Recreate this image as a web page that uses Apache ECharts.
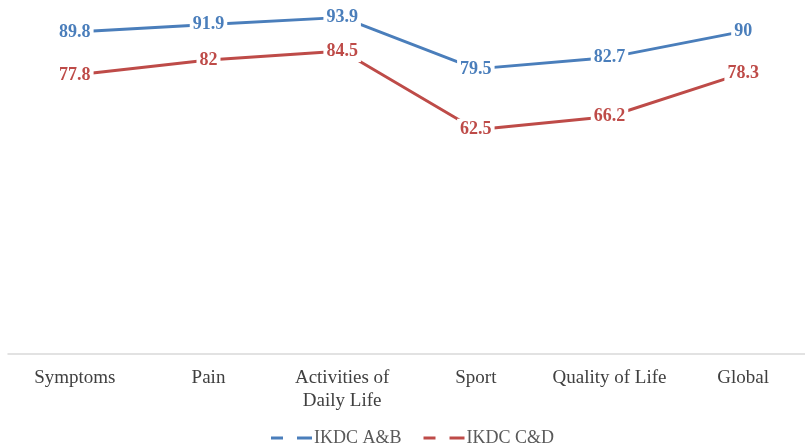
<!DOCTYPE html>
<html>
<head>
<meta charset="utf-8">
<script src="https://cdn.jsdelivr.net/npm/echarts@6/dist/echarts.min.js"></script>
<style>html,body{margin:0;padding:0;background:#fff}#c{width:805px;height:445px}</style>
</head>
<body>
<div id="c"></div>
<script>
var categories = ['Symptoms', 'Pain', 'Activities of\nDaily Life', 'Sport', 'Quality of Life', 'Global'];
var seriesNames = ['IKDC A&B', 'IKDC C&D'];
var ikdcAB = [89.8, 91.9, 93.9, 79.5, 82.7, 90];
var ikdcCD = [77.8, 82, 84.5, 62.5, 66.2, 78.3];
var colors = ['#4A7EBB', '#BE4B48'];
var FONT = '"Liberation Serif", "Times New Roman", serif';

function makeSeries(name, data, color) {
  return {
    name: name,
    type: 'line',
    data: data,
    symbol: 'circle',
    symbolSize: 1,
    showSymbol: true,
    itemStyle: { color: color },
    lineStyle: { color: color, width: 2.9 },
    label: {
      show: true,
      position: 'inside',
      color: color,
      fontFamily: FONT,
      fontWeight: 'bold',
      fontSize: 18,
      backgroundColor: '#fff',
      padding: [2, 3, 2, 3]
    },
    emphasis: { disabled: true },
    animation: false
  };
}

var chart = echarts.init(document.getElementById('c'), null, { renderer: 'canvas' });
chart.setOption({
  animation: false,
  backgroundColor: '#fff',
  grid: { left: 8, width: 802, top: -4.5, height: 358, containLabel: false, outerBoundsMode: 'none' },
  xAxis: {
    type: 'category',
    data: categories,
    boundaryGap: true,
    axisLine: { show: true, lineStyle: { color: '#D9D9D9', width: 1.5 } },
    axisTick: { show: false },
    axisLabel: {
      margin: 13,
      color: '#404040',
      fontFamily: FONT,
      fontSize: 19,
      lineHeight: 23,
      interval: 0
    }
  },
  yAxis: {
    type: 'value',
    min: 0,
    max: 100,
    show: false,
    splitLine: { show: false }
  },
  legend: {
    left: 271,
    top: 429,
    padding: 0,
    itemWidth: 41,
    itemHeight: 3,
    itemGap: 22,
    symbolKeepAspect: false,
    icon: 'path://M0,0H12V3H0Z M26,0H41V3H26Z',
    textStyle: { color: '#595959', fontFamily: FONT, fontSize: 18, padding: [0, 0, 0, -3] },
    data: seriesNames
  },
  series: [
    makeSeries(seriesNames[0], ikdcAB, colors[0]),
    makeSeries(seriesNames[1], ikdcCD, colors[1])
  ]
});
</script>
</body>
</html>
